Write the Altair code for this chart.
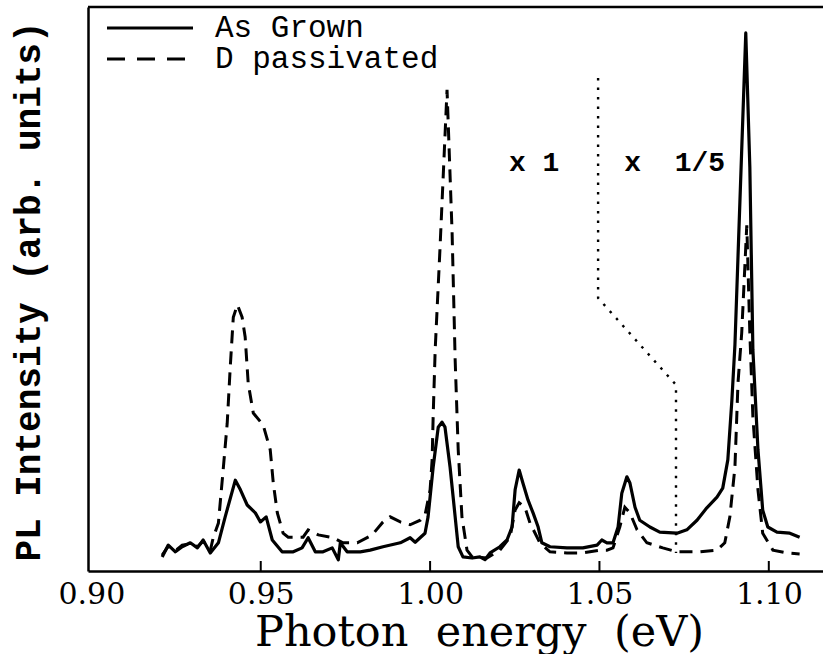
import altair as alt
import pandas as pd

# ---------------- data ----------------
energy_grown = [0.9209, 0.9227, 0.9248, 0.9268, 0.9292, 0.9313, 0.9330, 0.9351, 0.9375, 0.9395,
                0.9425, 0.9440, 0.9460, 0.9484, 0.9499, 0.9516, 0.9534, 0.9563, 0.9596, 0.9622,
                0.9640, 0.9661, 0.9684, 0.9711, 0.9729, 0.9735, 0.9755, 0.9794, 0.9823, 0.9861,
                0.9912, 0.9941, 0.9956, 0.9985, 0.9994, 1.0009, 1.0024, 1.0035, 1.0044, 1.0059,
                1.0074, 1.0083, 1.0097, 1.0124, 1.0147, 1.0162, 1.0177, 1.0206, 1.0227, 1.0242,
                1.0251, 1.0263, 1.0274, 1.0289, 1.0304, 1.0319, 1.0330, 1.0354, 1.0404, 1.0451,
                1.0493, 1.0507, 1.0522, 1.0540, 1.0555, 1.0566, 1.0581, 1.0590, 1.0605, 1.0619,
                1.0649, 1.0678, 1.0729, 1.0758, 1.0788, 1.0817, 1.0847, 1.0864, 1.0879, 1.0891,
                1.0900, 1.0932, 1.0944, 1.0953, 1.0968, 1.0982, 1.0997, 1.1024, 1.1062, 1.1091]
int_grown = [2.5, 4.6, 3.4, 4.3, 5.0, 4.1, 5.5, 3.2, 5.0, 9.6,
             16.1, 14.4, 11.7, 10.3, 8.7, 9.6, 5.5, 3.4, 3.4, 4.1,
             5.9, 3.4, 3.4, 4.1, 2.0, 5.0, 3.4, 3.4, 3.7, 4.3,
             5.0, 5.9, 5.1, 6.7, 9.6, 18.4, 25.5, 26.4, 25.5, 18.4,
             9.6, 4.3, 2.5, 2.3, 2.5, 2.0, 3.2, 4.3, 5.5, 7.8,
             14.4, 17.9, 15.6, 12.6, 10.3, 7.8, 5.0, 4.3, 4.1, 4.1,
             4.6, 5.5, 5.0, 5.0, 7.8, 13.8, 16.7, 15.6, 11.3, 9.0,
             7.8, 6.9, 6.7, 7.3, 9.0, 11.2, 13.1, 14.7, 19.7, 30.3,
             40.1, 95.4, 71.6, 39.2, 21.5, 10.8, 7.8, 6.9, 6.7, 6.0]

energy_dpass = [0.9209, 0.9227, 0.9248, 0.9268, 0.9292, 0.9313, 0.9330, 0.9351, 0.9360, 0.9375,
                0.9389, 0.9401, 0.9410, 0.9419, 0.9431, 0.9445, 0.9454, 0.9463, 0.9478, 0.9507,
                0.9528, 0.9537, 0.9549, 0.9566, 0.9581, 0.9625, 0.9640, 0.9670, 0.9714, 0.9743,
                0.9785, 0.9829, 0.9861, 0.9882, 0.9912, 0.9941, 0.9971, 0.9985, 1.0000, 1.0006,
                1.0009, 1.0015, 1.0029, 1.0050, 1.0065, 1.0074, 1.0083, 1.0094, 1.0109, 1.0124,
                1.0168, 1.0206, 1.0236, 1.0251, 1.0263, 1.0280, 1.0295, 1.0324, 1.0354, 1.0404,
                1.0451, 1.0501, 1.0522, 1.0540, 1.0560, 1.0575, 1.0590, 1.0611, 1.0640, 1.0687,
                1.0729, 1.0797, 1.0847, 1.0870, 1.0885, 1.0900, 1.0909, 1.0920, 1.0935, 1.0944,
                1.0953, 1.0968, 1.0982, 1.1012, 1.1053, 1.1091]
int_dpass = [2.8, 4.4, 3.6, 4.6, 4.8, 4.3, 5.3, 3.6, 6.0, 8.5,
             17.9, 26.2, 36.2, 45.0, 47.2, 45.0, 41.5, 33.3, 28.0, 25.9,
             21.5, 15.6, 10.3, 6.7, 6.0, 6.0, 7.3, 6.4, 5.9, 5.0,
             5.0, 6.4, 8.7, 9.6, 8.7, 8.2, 9.0, 9.9, 14.4, 19.7,
             27.3, 39.2, 56.9, 85.3, 59.9, 37.4, 21.5, 9.6, 3.7, 2.5,
             2.3, 3.7, 6.0, 10.8, 12.1, 11.3, 8.5, 5.0, 3.4, 3.2,
             3.2, 3.7, 3.7, 4.1, 7.8, 11.3, 10.3, 7.3, 5.0, 4.1,
             3.4, 3.4, 3.7, 5.0, 9.6, 18.4, 33.3, 42.2, 61.3, 42.2,
             27.3, 14.4, 6.7, 3.7, 3.2, 3.0]

divider_energy = [1.0496, 1.0496, 1.0726, 1.0726]
divider_int = [87.4, 48.4, 33.0, 3.2]

tick_energy = [0.95, 1.00, 1.05, 1.10]
label_energy = [0.90, 0.95, 1.00, 1.05, 1.10]

ann_text = ["x 1", "x\u00a0\u00a01/5"]
ann_energy = [1.0307, 1.0722]
ann_int = [72.3, 72.3]

legend_labels = ["As Grown", "D passivated"]
x_title = "Photon\u00a0 energy\u00a0 (eV)"
y_title = "PL Intensity (arb. units)"

# ---------------- chart ----------------
W, H = 735, 564
MONO = "Liberation Mono"
SERIF = "DejaVu Serif"

df_grown = pd.DataFrame({"E": energy_grown, "I": int_grown})
df_dpass = pd.DataFrame({"E": energy_dpass, "I": int_dpass})
df_div = pd.DataFrame({"E": divider_energy, "I": divider_int, "k": list(range(len(divider_energy)))})
df_ticks = pd.DataFrame({"E": tick_energy})
df_ann = pd.DataFrame({"E": ann_energy, "I": ann_int, "t": ann_text})
df_one = pd.DataFrame({"z": [0]})
df_leg1 = pd.DataFrame({"label": [legend_labels[0]]})
df_leg2 = pd.DataFrame({"label": [legend_labels[1]]})

xscale = alt.Scale(domain=[0.899, 1.116], nice=False, zero=False)
yscale = alt.Scale(domain=[0, 100], nice=False, zero=False)

xaxis = alt.Axis(
    values=label_energy, format=".2f", ticks=False, grid=False,
    domain=True, domainColor="black", domainWidth=2.5,
    labelFont=SERIF, labelFontSize=30, labelColor="black", labelPadding=8,
    labelOverlap=False, labelFlush=False,
    title=x_title, titleFont=SERIF, titleFontSize=43,
    titleFontWeight="normal", titleColor="black",
    titleX=391, titleY=74, titleAlign="center", titleBaseline="alphabetic",
)
yaxis = alt.Axis(
    ticks=False, labels=False, grid=False,
    domain=True, domainColor="black", domainWidth=2.5,
    title=y_title, titleFont=MONO, titleFontSize=36,
    titleFontWeight="bold", titleColor="black", titleAngle=270,
    titleX=-49, titleY=284, titleAlign="center", titleBaseline="alphabetic",
)

solid = alt.Chart(df_grown).mark_line(color="black", strokeWidth=3.2, strokeJoin="round").encode(
    x=alt.X("E:Q", scale=xscale, axis=xaxis),
    y=alt.Y("I:Q", scale=yscale, axis=yaxis),
)
dashed = alt.Chart(df_dpass).mark_line(color="black", strokeWidth=3, strokeDash=[13, 8]).encode(
    x="E:Q", y="I:Q"
)
divider = alt.Chart(df_div).mark_line(color="black", strokeWidth=2.4, strokeDash=[2.5, 7]).encode(
    x="E:Q", y="I:Q", order="k:Q"
)
ticks = alt.Chart(df_ticks).mark_rule(color="black", strokeWidth=2).encode(
    x="E:Q", y=alt.value(H), y2=alt.value(H - 10)
)
top_border = alt.Chart(df_one).mark_rule(color="black", strokeWidth=2.5).encode(
    x=alt.value(0), x2=alt.value(W), y=alt.value(0)
)
ann = alt.Chart(df_ann).mark_text(font=MONO, fontSize=28, fontWeight="bold", color="black",
                                  align="center", baseline="middle").encode(
    x="E:Q", y="I:Q", text="t:N"
)
leg_line1 = alt.Chart(df_one).mark_rule(color="black", strokeWidth=3).encode(
    x=alt.value(19), x2=alt.value(105), y=alt.value(21)
)
leg_line2 = alt.Chart(df_one).mark_rule(color="black", strokeWidth=3, strokeDash=[18, 12]).encode(
    x=alt.value(19), x2=alt.value(105), y=alt.value(52)
)
leg_txt1 = alt.Chart(df_leg1).mark_text(font=MONO, fontSize=31, fontWeight="normal", color="black",
                                        align="left", baseline="middle").encode(
    x=alt.value(127), y=alt.value(21), text="label:N"
)
leg_txt2 = alt.Chart(df_leg2).mark_text(font=MONO, fontSize=31, fontWeight="normal", color="black",
                                        align="left", baseline="middle").encode(
    x=alt.value(127), y=alt.value(52), text="label:N"
)

chart = alt.layer(
    solid, dashed, divider, ticks, top_border, ann,
    leg_line1, leg_line2, leg_txt1, leg_txt2
).properties(
    width=W, height=H,
    autosize=alt.AutoSizeParams(type="none"),
    padding={"left": 88, "top": 7, "right": 0, "bottom": 83},
    background="white",
).configure_view(strokeWidth=0)

chart.save("out.html", embed_options={"renderer": "svg", "actions": False})
